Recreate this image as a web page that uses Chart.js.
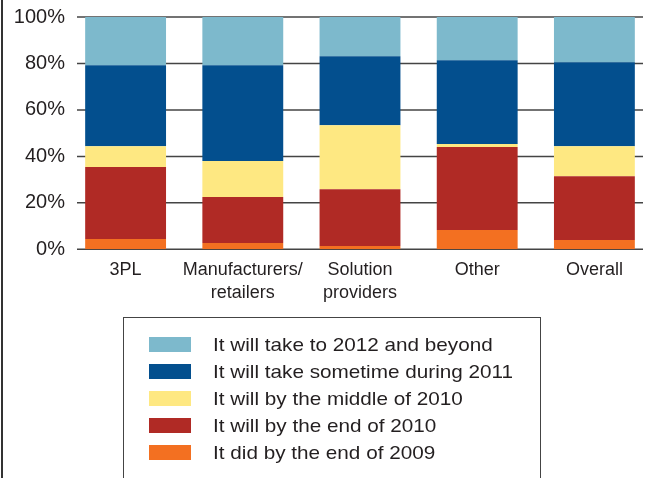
<!DOCTYPE html>
<html>
<head>
<meta charset="utf-8">
<script src="https://cdn.jsdelivr.net/npm/chart.js@4"></script>
<style>
  html, body { margin: 0; padding: 0; background: #fff; overflow: hidden; width: 650px; height: 478px; }
  #wrap { position: absolute; left: 0; top: 0; width: 653px; height: 478px; }
  #frame { position: absolute; left: 1px; top: 0; width: 1.5px; height: 478px; background: #333; }
  #legend { position: absolute; left: 123px; top: 317px; width: 416px; height: 200px;
            border: 1.5px solid #444; font-family: "Liberation Sans", Arial, sans-serif; font-size: 19px; color: #231f20; }
  .row { position: absolute; left: 0; height: 27px; line-height: 27px; white-space: nowrap; }
  .sw { position: absolute; left: 25px; top: 6px; width: 42px; height: 15px; }
  .lbl { position: absolute; left: 89px; top: 0; transform: scaleX(1.09); transform-origin: left center; }
</style>
</head>
<body>
<div id="wrap"><canvas id="c"></canvas></div>
<div id="frame"></div>
<div id="legend"></div>
<script>
const categories = [['3PL'], ['Manufacturers/', 'retailers'], ['Solution', 'providers'], ['Other'], ['Overall']];
const seriesNames = [
    'It did by the end of 2009',
    'It will by the end of 2010',
    'It will by the middle of 2010',
    'It will take sometime during 2011',
    'It will take to 2012 and beyond'
];
const did2009    = [4.4, 2.7, 1.4, 8.3, 4.0];
const end2010    = [31.0, 19.8, 24.5, 35.7, 27.5];
const middle2010 = [9.0, 15.5, 27.5, 1.3, 12.9];
const during2011 = [34.8, 41.2, 29.7, 36.1, 36.1];
const beyond2012 = [20.8, 20.8, 16.9, 18.6, 19.5];
const yTicks = [0, 20, 40, 60, 80, 100];
const colors = ['#f37021', '#b02a25', '#fee882', '#034f8e', '#7db9cc'];

const values = [did2009, end2010, middle2010, during2011, beyond2012];

// horizontal rules behind the bars, shorter than the chart area
const gridLines = {
    id: 'gridLines',
    beforeDatasetsDraw(chart) {
        const ctx = chart.ctx;
        const y = chart.scales.y;
        ctx.save();
        ctx.strokeStyle = '#444';
        ctx.lineWidth = 1.5;
        yTicks.forEach(v => {
            const py = y.getPixelForValue(v);
            ctx.beginPath();
            ctx.moveTo(77, py);
            ctx.lineTo(643, py);
            ctx.stroke();
        });
        ctx.restore();
    }
};

const chart = new Chart(document.getElementById('c').getContext('2d'), {
    type: 'bar',
    data: {
        labels: categories,
        datasets: values.map((d, i) => ({
            label: seriesNames[i],
            data: d,
            backgroundColor: colors[i],
            borderWidth: 0,
            barPercentage: 1,
            categoryPercentage: 0.69
        }))
    },
    options: {
        responsive: true,
        maintainAspectRatio: false,
        animation: false,
        layout: { padding: { top: 17, left: 0, right: 0, bottom: 0 } },
        plugins: { legend: { display: false }, tooltip: { enabled: false } },
        scales: {
            x: {
                stacked: true,
                grid: { display: false, drawTicks: false },
                border: { display: false },
                ticks: {
                    color: '#231f20', padding: 9,
                    font: { family: '"Liberation Sans", Arial, sans-serif', size: 18, lineHeight: 1.3 },
                    maxRotation: 0, autoSkip: false
                },
                afterFit(scale) { scale.height = 478 - 249.3; }
            },
            y: {
                stacked: true,
                min: 0, max: 100,
                grid: { display: false, drawTicks: false },
                border: { display: false },
                afterBuildTicks(scale) { scale.ticks = yTicks.map(v => ({ value: v })); },
                ticks: {
                    color: '#231f20', padding: 2,
                    font: { family: '"Liberation Sans", Arial, sans-serif', size: 20 },
                    callback: v => v + '%'
                },
                afterFit(scale) { scale.width = 67; }
            }
        }
    },
    plugins: [gridLines]
});

// legend, top entry is the last series
const legend = document.getElementById('legend');
chart.data.datasets.slice().reverse().forEach((ds, i) => {
    const row = document.createElement('div');
    row.className = 'row';
    row.style.top = (13 + i * 27) + 'px';
    row.innerHTML = '<span class="sw" style="background:' + ds.backgroundColor + '"></span><span class="lbl">' + ds.label + '</span>';
    legend.appendChild(row);
});
</script>
</body>
</html>
